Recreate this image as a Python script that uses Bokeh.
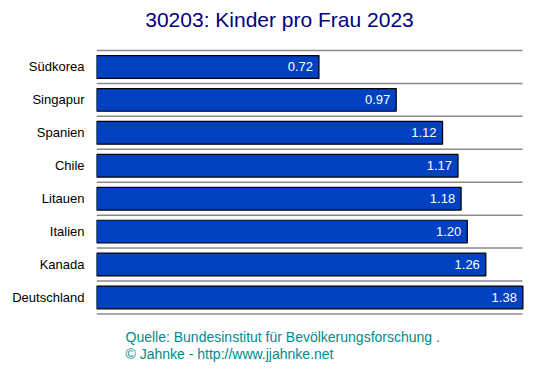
from bokeh.plotting import figure
from bokeh.models import Range1d, ColumnDataSource, FixedTicker
from bokeh.core.properties import value
from bokeh.embed import file_html
from bokeh.resources import INLINE

# ---- data ----
countries = ["Südkorea", "Singapur", "Spanien", "Chile", "Litauen", "Italien", "Kanada", "Deutschland"]
births_per_woman = [0.72, 0.97, 1.12, 1.17, 1.18, 1.20, 1.26, 1.38]
value_labels = ["0.72", "0.97", "1.12", "1.17", "1.18", "1.20", "1.26", "1.38"]
title_text = "30203: Kinder pro Frau 2023"
source_line1 = "Quelle: Bundesinstitut für Bevölkerungsforschung ."
source_line2 = "© Jahnke - http://www.jjahnke.net"

FONT = "Liberation Sans"
W, H = 553, 376
LEFT, RIGHT = 96, 23
frame_w = W - LEFT - RIGHT
n = len(countries)

# layout (pixels)
X_PX_PER_UNIT = 309.0
Y_PX_PER_UNIT = 32.93
TOP_BAND_PX = 50.0

x_end = frame_w / X_PX_PER_UNIT
y1 = (n - 0.5) + TOP_BAND_PX / Y_PX_PER_UNIT
y0 = y1 - H / Y_PX_PER_UNIT

def px_x(px):
    return (px - LEFT) / X_PX_PER_UNIT

def px_y(py):
    return y1 - py / Y_PX_PER_UNIT

ypos = [n - 1 - i for i in range(n)]
src = ColumnDataSource(dict(y=ypos, v=births_per_woman, lab=value_labels))

p = figure(width=W, height=H, output_backend="svg", toolbar_location=None,
           x_range=Range1d(0, x_end), y_range=Range1d(y0, y1),
           min_border_left=LEFT, min_border_right=RIGHT,
           min_border_top=0, min_border_bottom=0,
           x_axis_location=None)
p.outline_line_color = None
p.xgrid.visible = False
p.ygrid.visible = False
p.background_fill_color = "white"
p.border_fill_color = "white"

ax = p.yaxis[0]
ax.ticker = FixedTicker(ticks=ypos)
ax.major_label_overrides = {yy: c for yy, c in zip(ypos, countries)}
ax.axis_line_color = None
ax.major_tick_line_color = None
ax.minor_tick_line_color = None
ax.major_tick_out = 0
ax.major_tick_in = 0
ax.major_label_standoff = 12
ax.major_label_text_font = FONT
ax.major_label_text_font_size = "13px"
ax.major_label_text_color = "black"

# separator lines between bands
line_end = px_x(522)
bounds = [i - 0.5 for i in range(n + 1)]
p.segment(x0=[0] * len(bounds), x1=[line_end] * len(bounds), y0=bounds, y1=bounds,
          line_color="#8a8a8a", line_width=1.5)

p.hbar(y="y", right="v", left=0, height=0.69, source=src,
       fill_color="#0041C2", line_color="black", line_width=1.2)

p.text(x="v", y="y", text="lab", source=src, x_offset=-6,
       text_align="right", text_baseline="middle", text_color="white",
       text_font=value(FONT), text_font_size="13px")

# title and source lines
p.text(x=[px_x(279)], y=[px_y(19)], text=[title_text], text_align="center",
       text_baseline="middle", text_color="#000080",
       text_font=value(FONT), text_font_size="21px")
p.text(x=[px_x(125), px_x(125)], y=[px_y(336.5), px_y(353.5)],
       text=[source_line1, source_line2], text_align="left",
       text_baseline="middle", text_color="#008b8b",
       text_font=value(FONT), text_font_size="14px")

open("out.html", "w").write(file_html(p, INLINE))
